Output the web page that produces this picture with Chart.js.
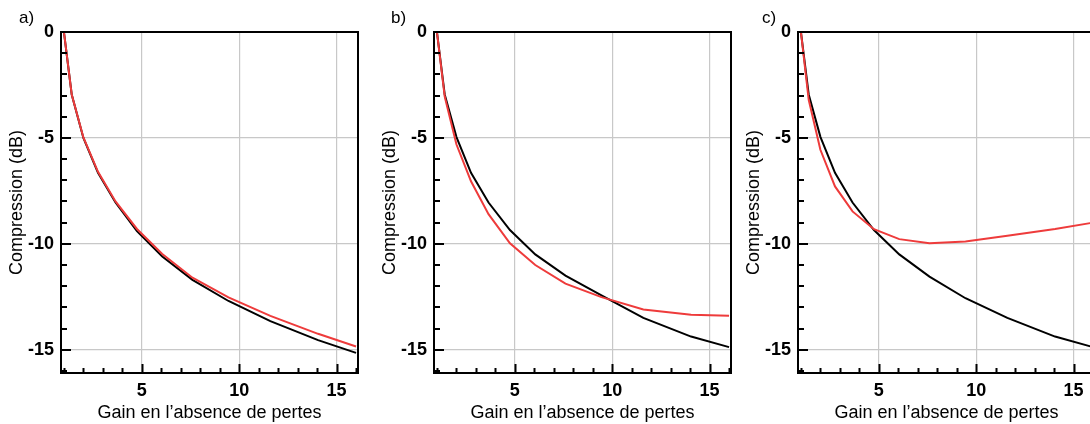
<!DOCTYPE html>
<html>
<head>
<meta charset="utf-8">
<script src="https://cdn.jsdelivr.net/npm/chart.js@4.4.0/dist/chart.umd.min.js"></script>
<style>
  html, body { margin: 0; padding: 0; background: #fff; width: 1090px; height: 424px; overflow: hidden; }
  canvas { position: absolute; top: 0; }
</style>
</head>
<body>
<canvas id="chartA" width="370" height="424" style="left:0px"></canvas>
<canvas id="chartB" width="370" height="424" style="left:373px"></canvas>
<canvas id="chartC" width="370" height="424" style="left:737px"></canvas>
<script>
// gain values (x) shared by every curve
const gain = [1, 1.4, 2, 2.75, 3.65, 4.75, 6.05, 7.6, 9.45, 11.6, 14.05, 16];

// compression in dB
const blackA = [0, -2.95, -5.0, -6.65, -8.05, -9.4, -10.6, -11.7, -12.7, -13.65, -14.55, -15.15];
const redA   = [0, -2.95, -4.98, -6.6, -8.0, -9.3, -10.48, -11.6, -12.53, -13.4, -14.25, -14.85];
const blackB = [0, -2.95, -4.95, -6.65, -8.05, -9.35, -10.5, -11.5, -12.43, -13.5, -14.38, -14.88];
const redB   = [0, -3.05, -5.3, -7.05, -8.6, -9.98, -11.0, -11.88, -12.52, -13.1, -13.35, -13.4];
const blackC = [0, -2.95, -4.95, -6.65, -8.05, -9.35, -10.5, -11.55, -12.57, -13.5, -14.38, -14.88];
const redC   = [0, -3.2, -5.56, -7.29, -8.47, -9.31, -9.78, -9.97, -9.89, -9.62, -9.3, -9.0];

const xTicks = [5, 10, 15];
const yTicks = [-15, -10, -5, 0];
const panelLabels = ['a)', 'b)', 'c)'];
const xTitle = 'Gain en l\u2019absence de pertes';
const yTitle = 'Compression (dB)';

const FONT = '"Liberation Sans", Arial, Helvetica, sans-serif';

// box round the plot, small inward ticks, panel letter
const framePlugin = {
    id: 'frame',
    afterDraw(chart) {
        const { ctx, chartArea: a, scales } = chart;
        const xs = scales.x, ys = scales.y;
        ctx.save();
        ctx.strokeStyle = '#000';
        ctx.lineWidth = 2;
        // inward ticks every unit, longer on the labelled ones
        ctx.beginPath();
        for (let v = 1; v <= 16; v++) {
            const px = Math.round(xs.getPixelForValue(v)) + 0.5;
            const len = v % 5 === 0 ? 9 : 5;
            ctx.moveTo(px, a.bottom);
            ctx.lineTo(px, a.bottom - len);
        }
        for (let v = 0; v >= -16; v--) {
            const py = Math.round(ys.getPixelForValue(v));
            const len = v % 5 === 0 ? 10 : 6;
            ctx.moveTo(a.left, py);
            ctx.lineTo(a.left + len, py);
        }
        ctx.stroke();
        ctx.strokeRect(a.left, a.top, a.right - a.left, a.bottom - a.top);
        const opt = chart.options.plugins.frame;
        ctx.fillStyle = '#000';
        ctx.font = '17px ' + FONT;
        ctx.textBaseline = 'alphabetic';
        ctx.fillText(opt.label, opt.labelX, 23);
        ctx.restore();
    }
};

function makePanel(id, label, labelX, red, black) {
    const ctx = document.getElementById(id).getContext('2d');
    return new Chart(ctx, {
        type: 'line',
        data: {
            datasets: [
                { data: gain.map((g, i) => ({ x: g, y: red[i] })), borderColor: '#ee3b3b', borderWidth: 2, pointRadius: 0, tension: 0 },
                { data: gain.map((g, i) => ({ x: g, y: black[i] })), borderColor: '#000', borderWidth: 2, pointRadius: 0, tension: 0 }
            ]
        },
        options: {
            responsive: false,
            animation: false,
            layout: { padding: { top: 32, right: 12, bottom: 0, left: 0 } },
            plugins: {
                legend: { display: false },
                tooltip: { enabled: false },
                frame: { label: label, labelX: labelX }
            },
            scales: {
                x: {
                    type: 'linear', min: 0.85, max: 16.1,
                    afterBuildTicks: s => { s.ticks = xTicks.map(v => ({ value: v })); },
                    afterFit: s => { s.height = 51; },
                    grid: { color: '#c8c8c8', lineWidth: 1.2, drawTicks: false },
                    border: { display: false },
                    ticks: { color: '#000', padding: 7, font: { family: FONT, size: 18, weight: 'bold' }, callback: v => String(v) },
                    title: { display: true, text: xTitle, color: '#000', padding: { top: 0, bottom: 0 }, font: { family: FONT, size: 18 } }
                },
                y: {
                    type: 'linear', min: -16.1, max: 0,
                    afterBuildTicks: s => { s.ticks = yTicks.map(v => ({ value: v })); },
                    afterFit: s => { s.width = 61; },
                    grid: { color: '#c8c8c8', lineWidth: 1.2, drawTicks: false },
                    border: { display: false },
                    ticks: { color: '#000', padding: 7, font: { family: FONT, size: 18, weight: 'bold' }, callback: v => String(v) },
                    title: { display: true, text: yTitle, color: '#000', padding: { top: 6, bottom: 0 }, font: { family: FONT, size: 18 } }
                }
            }
        },
        plugins: [framePlugin]
    });
}

window.onload = () => {
    makePanel('chartA', panelLabels[0], 19, redA, blackA);
    makePanel('chartB', panelLabels[1], 18, redB, blackB);
    makePanel('chartC', panelLabels[2], 25, redC, blackC);
};
</script>
</body>
</html>
